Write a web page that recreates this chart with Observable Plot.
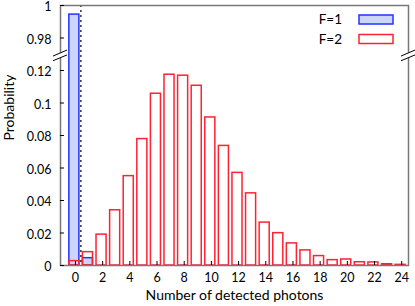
<!DOCTYPE html>
<html><head><meta charset="utf-8">
<script src="https://cdn.jsdelivr.net/npm/d3@7"></script>
<script src="https://cdn.jsdelivr.net/npm/@observablehq/plot@0.6"></script>
<style>body{margin:0;background:#fff;font-family:Lato,sans-serif}</style>
</head><body><div id="chart"></div>
<script>
const photons = d3.range(0, 25);
const probF1 = [0.9944, 0.0045, 0, 0, 0, 0, 0, 0, 0, 0, 0, 0, 0, 0, 0, 0, 0, 0, 0, 0, 0, 0, 0, 0, 0];
const probF2 = [0.0027, 0.0082, 0.019, 0.034, 0.055, 0.0778, 0.1057, 0.1174, 0.1168, 0.1106, 0.0911, 0.0736, 0.057, 0.0444, 0.0264, 0.0199, 0.0136, 0.0093, 0.0058, 0.0033, 0.0037, 0.002, 0.0019, 0.0008, 0.0004];
const yTickValues = [0, 0.02, 0.04, 0.06, 0.08, 0.1, 0.12, 0.98, 1];
const yTickLabels = ["0", "0.02", "0.04", "0.06", "0.08", "0.1", "0.12", "0.98", "1"];
const xTickValues = d3.range(0, 25, 2);
const seriesNames = ["F=1", "F=2"];
const threshold = 0.4;

// broken axis: lower segment 0..0.13, upper segment 0.97..1
const lowTop = 0.13, highBottom = 0.97;
const tf = v => v > 0.5 ? v - highBottom + lowTop : v;
const yTicksT = yTickValues.map(tf);
const labelOf = new Map(yTicksT.map((t, i) => [t, yTickLabels[i]]));

const half = 0.37;
const f1 = photons.map((n, i) => ({x1: n - half - 0.08, x2: n + half - 0.08, y: tf(probF1[i])}));
const f2 = photons.map((n, i) => ({x1: n - half - 0.08, x2: n + half - 0.08, y: tf(probF2[i])}));

const blueStroke = "#2233ff", blueFill = "#ccd6fa", redStroke = "#ff2233";

function extras(index, scales, values, dim) {
  const svg = d3.create("svg:g");
  const y = scales.y;
  const yb = y(lowTop);
  const L = dim.marginLeft, R = dim.width - dim.marginRight;
  // break marks
  for (const cx of [L, R]) {
    const g = svg.append("g");
    g.append("path").attr("d", `M${cx-7},${yb+2.3} L${cx+7},${yb-3.7} L${cx+7},${yb+1.2} L${cx-7},${yb+7} Z`).attr("fill", "#fff");
    g.append("line").attr("x1", cx-7).attr("y1", yb+2.3).attr("x2", cx+7).attr("y2", yb-3.7).attr("stroke", "#000").attr("stroke-width", 1);
    g.append("line").attr("x1", cx-7).attr("y1", yb+7).attr("x2", cx+7).attr("y2", yb+1.2).attr("stroke", "#000").attr("stroke-width", 1);
  }
  // legend
  const items = [{name: seriesNames[0], fill: blueFill, stroke: blueStroke}, {name: seriesNames[1], fill: "#fff", stroke: redStroke}];
  items.forEach((it, i) => {
    const yy = 19.5 + i * 19.5;
    svg.append("text").attr("x", 342).attr("y", yy).attr("dy", "0.35em").attr("text-anchor", "end")
      .attr("font-size", 13.5).attr("fill", "#000").text(it.name);
    svg.append("rect").attr("x", 359).attr("y", yy - 4.5).attr("width", 34).attr("height", 9)
      .attr("fill", it.fill).attr("stroke", it.stroke).attr("stroke-width", 1.5);
  });
  return svg.node();
}

const plot = Plot.plot({
  width: 415, height: 306,
  marginLeft: 60, marginRight: 7, marginTop: 5, marginBottom: 41,
  style: {fontFamily: "Lato, sans-serif", fontSize: "12.5px", color: "#000", background: "#fff"},
  x: {domain: [-1.1, 24.5]},
  y: {domain: [0, 0.16]},
  marks: [
    Plot.rect(f1, {x1: "x1", x2: "x2", y1: 0, y2: "y", fill: blueFill, stroke: blueStroke, strokeWidth: 1.5}),
    Plot.rect(f2, {x1: "x1", x2: "x2", y1: 0, y2: "y", fill: "none", stroke: redStroke, strokeWidth: 1.5}),
    Plot.ruleX([threshold], {stroke: "#000", strokeDasharray: "2,3", strokeWidth: 1.2}),
    Plot.frame({stroke: "#777", strokeWidth: 1.5}),
    Plot.axisY(yTicksT, {tickSize: 0, tickPadding: 9, dy: 1.5, tickFormat: d => labelOf.get(d), label: null, fontSize: 12.5}),
    Plot.axisY(yTicksT, {tickSize: 4, dx: 4, tickFormat: () => "", label: null, stroke: "#000"}),
    Plot.axisX(xTickValues, {tickSize: 0, tickPadding: 8, label: null, fontSize: 12.5}),
    Plot.axisX(xTickValues, {tickSize: 4, dy: -4, tickFormat: () => "", label: null, stroke: "#000"}),
    Plot.text(["Number of detected photons"], {frameAnchor: "bottom", dy: 34, fontSize: 14, fill: "#000"}),
    Plot.text(["Probability"], {frameAnchor: "left", dx: -51, dy: 5, rotate: -90, fontSize: 14, fill: "#000"}),
    extras
  ]
});
document.getElementById("chart").appendChild(plot);
</script>
</body></html>
